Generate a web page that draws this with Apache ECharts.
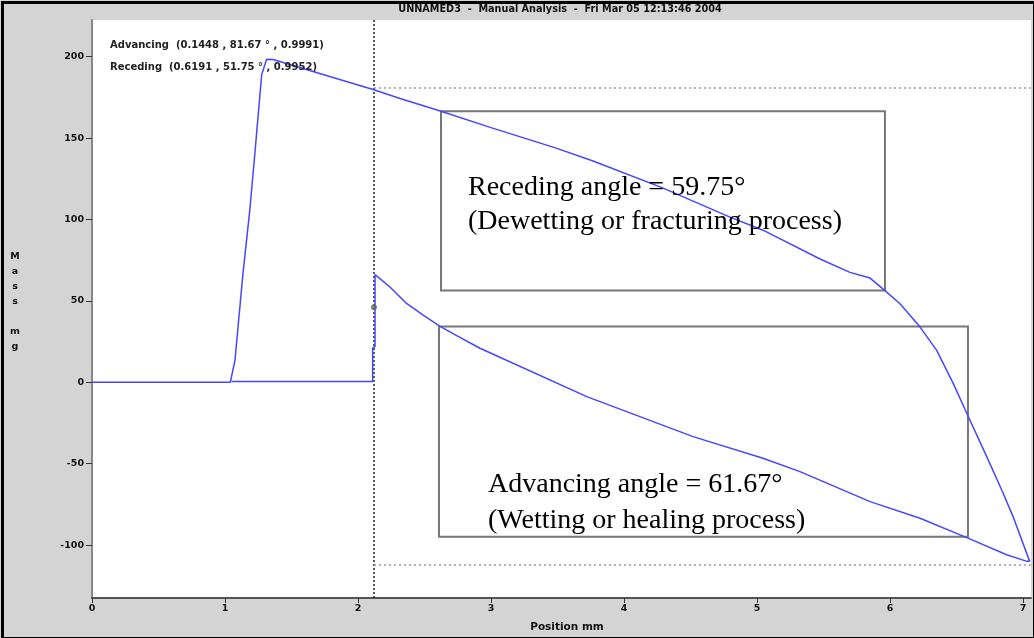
<!DOCTYPE html>
<html>
<head>
<meta charset="utf-8">
<script src="https://cdn.jsdelivr.net/npm/echarts@6/dist/echarts.min.js"></script>
<style>
html,body{margin:0;padding:0;background:#d4d4d4;}
#c{width:1034px;height:638px;}
</style>
</head>
<body>
<div id="c"></div>
<script>
// Trace (position mm, mass mg) in acquisition order
const positions = [0, 1.04, 1.05, 1.075, 1.135, 1.188, 1.226, 1.276, 1.313, 1.361, 2.113, 2.316, 2.624, 3.0, 3.49, 3.767, 4.29, 4.797, 5.045, 5.474, 5.699, 5.85, 5.962, 6.075, 6.226, 6.351, 6.476, 6.589, 6.727, 6.85, 6.925, 7.05,
  7.03, 6.877, 6.586, 6.226, 5.85, 5.323, 5.045, 4.519, 3.72, 2.917, 2.742, 2.617, 2.49, 2.365, 2.24, 2.128, 2.128, 2.11, 2.11, 1.05];
const masses = [0, 0, -0.8, 13.5, 66.7, 107, 142, 189, 198.4, 198.2, 179.8, 174.3, 166.5, 156.4, 143.8, 135.9, 119.4, 101.4, 93.4, 75.7, 67.5, 64, 56.3, 48.2, 33.9, 19.6, -0.8, -21.2, -45.7, -68, -82.5, -110,
  -110, -105.9, -95.7, -83.5, -73.3, -54.9, -46.7, -33.4, -8.8, 20.9, 28.7, 34.3, 41.2, 48.4, 58.5, 66.1, 22, 21, 0.5, 0.5];

const xTicks = [0, 1, 2, 3, 4, 5, 6, 7];
const yTicks = [-100, -50, 0, 50, 100, 150, 200];

// Analysis regions (position range, mass range)
const recedingBox = [[2.624, 166.5], [5.962, 56.3]];
const advancingBox = [[2.609, 34.3], [6.586, -94.9]];
const cursorX = 2.12;
const upperLimit = 180.7;
const lowerLimit = -111.9;
const cursorPoint = [2.12, 46];

const titleText = 'UNNAMED3  -  Manual Analysis  -  Fri Mar 05 12:13:46 2004';
const advFit = 'Advancing  (0.1448 , 81.67 ° , 0.9991)';
const recFit = 'Receding  (0.6191 , 51.75 ° , 0.9952)';

const chart = echarts.init(document.getElementById('c'));
const xMax = 7.06, yMin = -132.5, yMax = 222.5;
const SANS = 'DejaVu Sans, Verdana, sans-serif';
const lbl = {fontFamily: SANS, fontWeight: 'bold', fontSize: 9.5, color: '#111'};

chart.setOption({
  backgroundColor: '#d4d4d4',
  animation: false,
  grid: {left: 92, right: 3, top: 20, bottom: 40, show: true, backgroundColor: '#ffffff', borderWidth: 0},
  xAxis: {
    type: 'value', min: 0, max: xMax,
    axisLine: {show: true, onZero: false, lineStyle: {color: '#555', width: 2}},
    axisTick: {show: true, length: 5, customValues: xTicks, lineStyle: {color: '#333'}},
    axisLabel: Object.assign({customValues: xTicks, margin: 6}, lbl),
    splitLine: {show: false}
  },
  yAxis: {
    type: 'value', min: yMin, max: yMax,
    axisLine: {show: true, onZero: false, lineStyle: {color: '#888', width: 2}},
    axisTick: {show: true, length: 6, customValues: yTicks, lineStyle: {color: '#333'}},
    axisLabel: Object.assign({customValues: yTicks, margin: 8}, lbl),
    splitLine: {show: false}
  },
  series: [
    {
      type: 'line',
      data: positions.map((p, i) => [p, masses[i]]),
      showSymbol: false,
      lineStyle: {color: '#4646ff', width: 1.5},
      z: 5,
      markLine: {
        silent: true, symbol: 'none', animation: false,
        label: {show: false},
        data: [
          [{coord: [cursorX, yMin], lineStyle: {color: '#222', type: [2, 2], width: 1.5}}, {coord: [cursorX, yMax]}],
          [{coord: [cursorX, upperLimit], lineStyle: {color: '#999', type: [2, 3], width: 1.5}}, {coord: [xMax, upperLimit]}],
          [{coord: [cursorX, lowerLimit], lineStyle: {color: '#999', type: [2, 3], width: 1.5}}, {coord: [xMax, lowerLimit]}]
        ]
      },
      markArea: {
        silent: true,
        itemStyle: {color: 'rgba(0,0,0,0)', borderColor: '#777', borderWidth: 2},
        data: [
          [{coord: recedingBox[0]}, {coord: recedingBox[1]}],
          [{coord: advancingBox[0]}, {coord: advancingBox[1]}]
        ]
      }
    },
    {
      type: 'scatter',
      data: [cursorPoint],
      symbol: 'circle', symbolSize: 6,
      itemStyle: {color: '#666'},
      z: 6
    }
  ],
  graphic: [
    {type: 'rect', left: 0, top: 0, z: 100, silent: true, shape: {x: 1, y: 1, width: 1032, height: 636}, style: {fill: 'none', stroke: '#000', lineWidth: 3}},
    {type: 'text', z: 50, x: 560, y: 9, style: {text: titleText, fontFamily: SANS, fontWeight: 'bold', fontSize: 9.7, fill: '#111', align: 'center', verticalAlign: 'middle'}},
    {type: 'text', z: 50, x: 110, y: 45, style: {text: advFit, fontFamily: SANS, fontWeight: 'bold', fontSize: 10, fill: '#222', verticalAlign: 'middle'}},
    {type: 'text', z: 50, x: 110, y: 67, style: {text: recFit, fontFamily: SANS, fontWeight: 'bold', fontSize: 10, fill: '#222', verticalAlign: 'middle'}},
    {type: 'text', z: 50, x: 15, y: 302, style: {text: 'M\na\ns\ns\n\nm\ng', lineHeight: 15, fontFamily: SANS, fontWeight: 'bold', fontSize: 9.5, fill: '#111', align: 'center', verticalAlign: 'middle'}},
    {type: 'text', z: 50, x: 567, y: 627, style: {text: 'Position mm', fontFamily: SANS, fontWeight: 'bold', fontSize: 10.5, fill: '#111', align: 'center', verticalAlign: 'middle'}},
    {type: 'text', z: 50, x: 468, y: 205, style: {text: 'Receding angle = 59.75°\n(Dewetting or fracturing process)', lineHeight: 34, fontFamily: 'Liberation Serif, Times New Roman, serif', fontSize: 28, fill: '#000', verticalAlign: 'middle'}},
    {type: 'text', z: 50, x: 488, y: 503, style: {text: 'Advancing angle = 61.67°\n(Wetting or healing process)', lineHeight: 36, fontFamily: 'Liberation Serif, Times New Roman, serif', fontSize: 28, fill: '#000', verticalAlign: 'middle'}}
  ]
});
</script>
</body>
</html>
